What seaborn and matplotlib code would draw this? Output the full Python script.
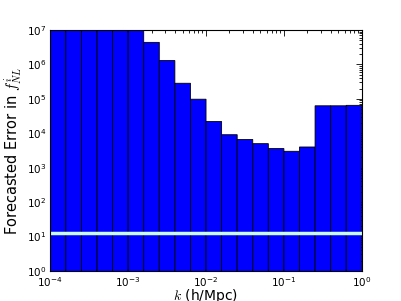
import numpy as np
import matplotlib
matplotlib.use("Agg")
import matplotlib.pyplot as plt
import seaborn as sns

# log10 bin edges of k (h/Mpc), 20 bins from 1e-4 to 1
log_k_range = (-4.0, 0.0)
n_bins = 20
# bin centres in k
k_centres = [1.26e-4, 2.00e-4, 3.16e-4, 5.01e-4, 7.94e-4,
             1.26e-3, 2.00e-3, 3.16e-3, 5.01e-3, 7.94e-3,
             1.26e-2, 2.00e-2, 3.16e-2, 5.01e-2, 7.94e-2,
             1.26e-1, 2.00e-1, 3.16e-1, 5.01e-1, 7.94e-1]
# forecasted error per bin (first bins run off the top of the plot)
forecast_error = [5e7, 5e7, 5e7, 5e7, 5e7,
                  5e7, 4.4e6, 1.3e6, 2.85e5, 9.8e4,
                  2.2e4, 9.1e3, 6.6e3, 5.0e3, 3.6e3,
                  3.0e3, 4.0e3, 6.3e4, 6.3e4, 6.5e4]
reference_level = 12.6

sns.set_style("ticks", {"xtick.direction": "in", "ytick.direction": "in",
                        "text.color": "black", "axes.labelcolor": "black",
                        "xtick.color": "black", "ytick.color": "black"})
plt.rcParams["font.family"] = ["DejaVu Sans"]
plt.rcParams["mathtext.fontset"] = "cm"

fig, ax = plt.subplots(figsize=(4.02, 3.01), dpi=100)
fig.subplots_adjust(left=0.125, right=0.9, bottom=0.1, top=0.9)

sns.histplot(x=k_centres, weights=forecast_error, bins=n_bins,
             binrange=log_k_range, log_scale=True,
             color="#0000ff", alpha=1, edgecolor="black", linewidth=0.6,
             snap=False, ax=ax)
ax.set_yscale("log")
ax.axhline(reference_level, color="#c8fce4", linewidth=2.5)

ax.set_xlim(1e-4, 1)
ax.set_ylim(1, 1e7)
ax.set_xlabel(r"$k$ (h/Mpc)", fontsize=10, labelpad=-1)
ax.set_ylabel(r"Forecasted Error in $f_{NL}^i$", fontsize=10.5, labelpad=2)
ax.tick_params(which="both", top=True, right=True, labelsize=7.5, width=0.6)
ax.tick_params(which="major", length=4, pad=3)
ax.tick_params(which="minor", length=2)
for s in ax.spines.values():
    s.set_linewidth(0.8)
    s.set_color("black")

fig.savefig("out.png", dpi=100)
